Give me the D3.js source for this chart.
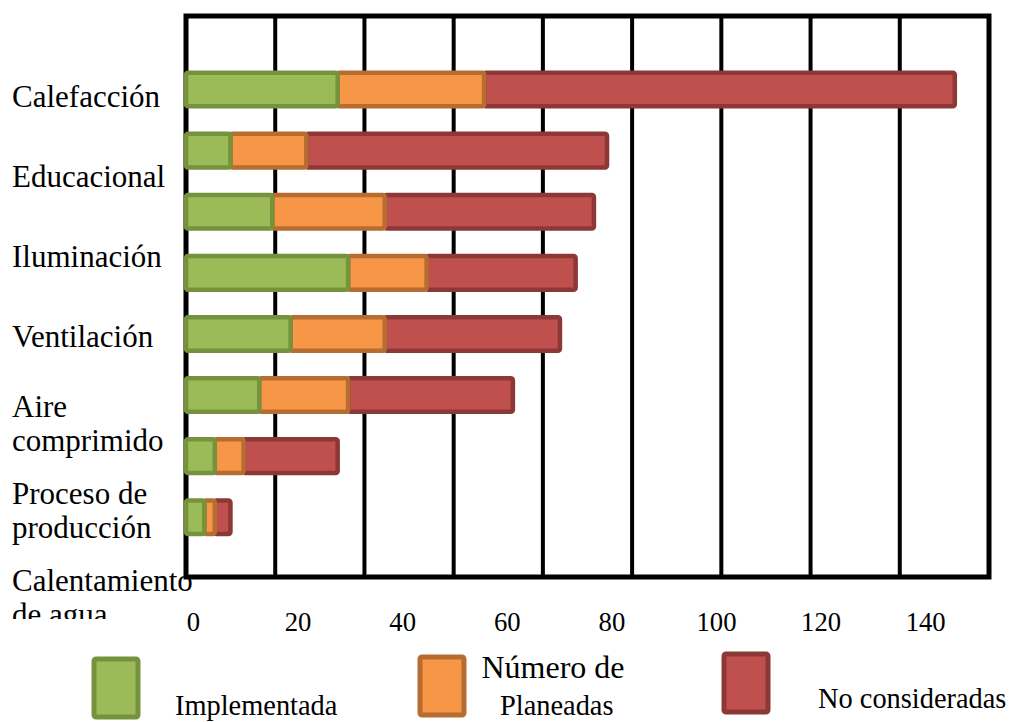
<!DOCTYPE html>
<html>
<head>
<meta charset="utf-8">
<script src="https://cdn.jsdelivr.net/npm/d3@7"></script>
<style>
  html, body { margin: 0; padding: 0; background: #fff; }
  svg { display: block; }
  text { font-family: "Liberation Serif", "Times New Roman", serif; fill: #000; }
</style>
</head>
<body>
<svg id="chart" width="1009" height="722"></svg>
<script>
// Category labels (line breaks mark wrapped labels)
const categoryLabels = [
  "Calefacción",
  "Educacional",
  "Iluminación",
  "Ventilación",
  "Aire\ncomprimido",
  "Proceso de\nproducción",
  "Calentamiento\nde agua"
];

// Number of measures per bar, top to bottom
const implementada   = [29, 8.5, 16.5, 31, 20, 14, 5.5, 3.5];
const planeadas      = [28, 14.5, 21.5, 15, 18, 17, 5.5, 2];
const noConsideradas = [90, 57.5, 40, 28.5, 33.5, 31.5, 18, 3];

const seriesNames = ["Implementada", "Planeadas", "No consideradas"];
const tickValues  = [0, 20, 40, 60, 80, 100, 120, 140];
const axisTitle   = "Número de";

const fills   = ["#9BBB59", "#F79646", "#C0504D"];
const strokes = ["#76923C", "#B66D31", "#8C3836"];

const svg = d3.select("#chart");

// Plot frame
const frame = { left: 186, right: 989, top: 16, bottom: 577 };

// Value scale used for bars and tick labels
const x = d3.scaleLinear().domain([0, 140]).range([186, 186 + 140 * 5.23]);
// Grid scale of the plot background (vertical rules)
const grid = d3.scaleLinear().domain([0, 180]).range([frame.left, frame.right]);

const bars = d3.range(implementada.length);
const y = d3.scaleBand()
  .domain(bars)
  .range([59, 547.8])
  .paddingInner(0.45)
  .paddingOuter(0.225);

// Stack the three series
const rows = bars.map(i => ({
  i,
  Implementada: implementada[i],
  Planeadas: planeadas[i],
  "No consideradas": noConsideradas[i]
}));
const stacked = d3.stack().keys(seriesNames)(rows);

// Category label block (left of the plot, clipped at the bottom)
svg.append("clipPath").attr("id", "labelClip")
  .append("rect").attr("x", 0).attr("y", 0).attr("width", 200).attr("height", 619);

const labelG = svg.append("g").attr("clip-path", "url(#labelClip)");
const labelSize = 31;
let cy = 97;
categoryLabels.forEach((lab, k) => {
  const lines = lab.split("\n");
  const lineH = 34;
  const first = cy - (lines.length - 1) * lineH / 2 + 10;
  lines.forEach((ln, j) => {
    labelG.append("text")
      .attr("x", 12)
      .attr("y", first + j * lineH)
      .attr("font-size", labelSize)
      .text(ln);
  });
  const next = categoryLabels[k + 1];
  cy += (lines.length > 1 || (next && next.includes("\n"))) ? 87 : 80;
});

// Vertical grid rules
svg.append("g")
  .selectAll("line")
  .data(d3.range(20, 180, 20))
  .join("line")
  .attr("x1", d => grid(d)).attr("x2", d => grid(d))
  .attr("y1", frame.top).attr("y2", frame.bottom)
  .attr("stroke", "#000").attr("stroke-width", 4);

// Frame
svg.append("rect")
  .attr("x", frame.left).attr("y", frame.top)
  .attr("width", frame.right - frame.left)
  .attr("height", frame.bottom - frame.top)
  .attr("fill", "none").attr("stroke", "#000").attr("stroke-width", 5);

// Bars: later series drawn first so each left segment's border stays on top
const barG = svg.append("g");
for (let s = stacked.length - 1; s >= 0; s--) {
  barG.append("g")
    .selectAll("rect")
    .data(stacked[s])
    .join("rect")
    .attr("x", d => x(d[0]))
    .attr("y", d => y(d.data.i))
    .attr("width", d => x(d[1]) - x(d[0]))
    .attr("height", y.bandwidth())
    .attr("rx", 2)
    .attr("fill", fills[s])
    .attr("stroke", strokes[s])
    .attr("stroke-width", 4.5);
}

// Tick labels along the bottom
const axisG = svg.append("g")
  .attr("transform", `translate(7, 612)`)
  .call(d3.axisBottom(x).tickValues(tickValues).tickSize(0).tickPadding(0).tickFormat(d3.format("d")));
axisG.select(".domain").remove();
axisG.selectAll("text")
  .attr("font-size", 26.7)
  .attr("font-family", "Liberation Serif, Times New Roman, serif")
  .attr("dy", "0.71em")
  .attr("fill", "#000");

// Axis title
svg.append("text")
  .attr("x", 553).attr("y", 678)
  .attr("text-anchor", "middle")
  .attr("font-size", 32)
  .text(axisTitle);

// Legend
const legendX = [94, 420, 724];
const legendTop = [659, 657, 654];
const legendTextX = [175, 500, 818];
const legendTextY = [715, 715, 708];
seriesNames.forEach((name, s) => {
  svg.append("rect")
    .attr("x", legendX[s]).attr("y", legendTop[s])
    .attr("width", 44).attr("height", 58)
    .attr("rx", 2)
    .attr("fill", fills[s]).attr("stroke", strokes[s]).attr("stroke-width", 5);
  svg.append("text")
    .attr("x", legendTextX[s]).attr("y", legendTextY[s])
    .attr("font-size", 28.4)
    .text(name);
});
</script>
</body>
</html>
